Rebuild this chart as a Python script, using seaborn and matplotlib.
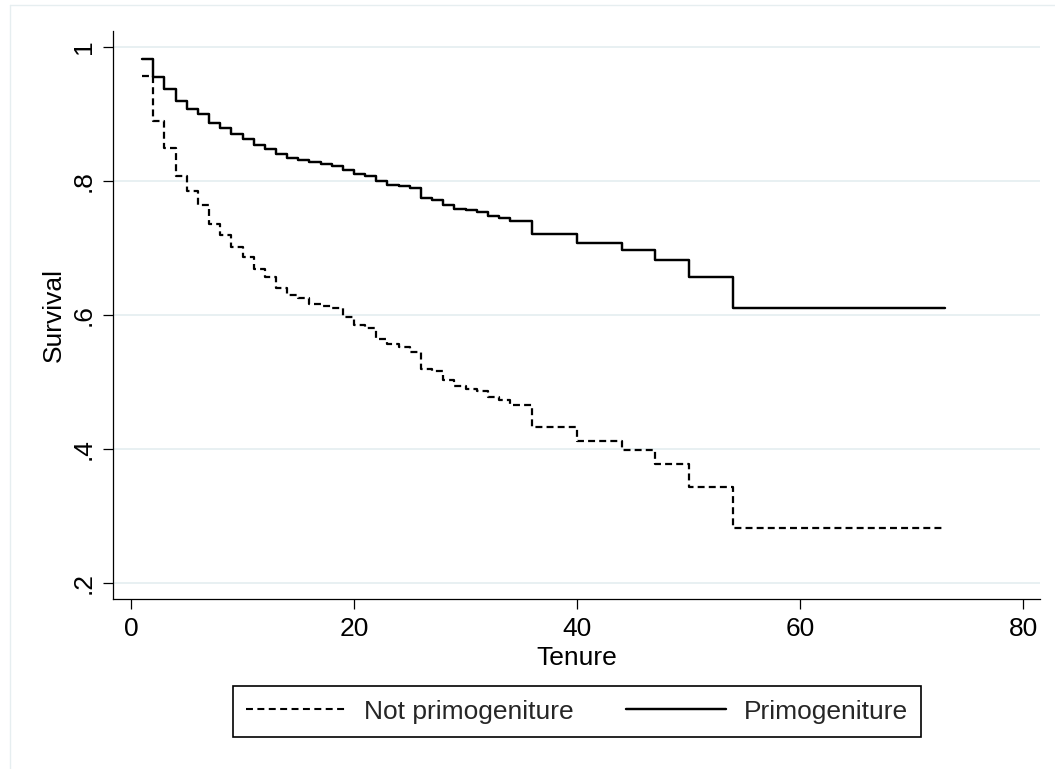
import matplotlib
matplotlib.use("Agg")
import matplotlib.pyplot as plt
from matplotlib.lines import Line2D
import seaborn as sns
import pandas as pd

# ---- data ----
prim_time = [1, 2, 3, 4, 5, 6, 7, 8, 9, 10, 11, 12, 13, 14, 15, 16, 17, 18, 19, 20,
             21, 22, 23, 24, 25, 26, 27, 28, 29, 30, 31, 32, 33, 34, 36, 40, 44, 47,
             50, 54, 73]
prim_surv = [0.982, 0.955, 0.937, 0.919, 0.908, 0.900, 0.886, 0.879, 0.870, 0.863,
             0.854, 0.848, 0.840, 0.835, 0.832, 0.828, 0.825, 0.822, 0.816, 0.810,
             0.807, 0.800, 0.794, 0.793, 0.789, 0.774, 0.772, 0.764, 0.758, 0.756,
             0.754, 0.748, 0.745, 0.741, 0.721, 0.707, 0.697, 0.682, 0.657, 0.610,
             0.610]

notprim_time = [1, 2, 3, 4, 5, 6, 7, 8, 9, 10, 11, 12, 13, 14, 15, 16, 17, 18, 19, 20,
                21, 22, 23, 24, 25, 26, 27, 28, 29, 30, 31, 32, 33, 34, 36, 40, 44, 47,
                50, 54, 73]
notprim_surv = [0.956, 0.890, 0.850, 0.808, 0.785, 0.764, 0.736, 0.719, 0.702, 0.686,
                0.669, 0.656, 0.641, 0.630, 0.626, 0.616, 0.613, 0.610, 0.597, 0.585,
                0.580, 0.564, 0.556, 0.553, 0.545, 0.520, 0.517, 0.503, 0.494, 0.490,
                0.486, 0.477, 0.473, 0.466, 0.433, 0.412, 0.399, 0.378, 0.343, 0.282,
                0.282]

x_ticks = [0, 20, 40, 60, 80]
y_ticks = [0.2, 0.4, 0.6, 0.8, 1.0]
y_tick_labels = [".2", ".4", ".6", ".8", "1"]
series_labels = ["Not primogeniture", "Primogeniture"]
x_label = "Tenure"
y_label = "Survival"

# ---- style ----
sns.set_theme(style="white")
plt.rcParams["font.family"] = ["Liberation Sans", "DejaVu Sans"]
plt.rcParams["lines.scale_dashes"] = False
FS = 19

fig = plt.figure(figsize=(10.55, 7.69), dpi=100)
W, H = 1055, 769
ax = fig.add_axes([113 / W, 1 - 599.3 / H, 927 / W, 568.3 / H])

df_np = pd.DataFrame({"t": notprim_time, "s": notprim_surv})
df_p = pd.DataFrame({"t": prim_time, "s": prim_surv})

sns.lineplot(data=df_np, x="t", y="s", ax=ax, drawstyle="steps-post",
             estimator=None, color="black", lw=1.6)
line_np = ax.lines[-1]
line_np.set_dashes((5, 3))
sns.lineplot(data=df_p, x="t", y="s", ax=ax, drawstyle="steps-post",
             estimator=None, color="black", lw=1.75)
line_p = ax.lines[-1]

ax.set_xlim(-1.614, 81.52)
ax.set_ylim(0.1757, 1.0239)
ax.set_xticks(x_ticks)
ax.set_xticklabels([str(v) for v in x_ticks], fontsize=FS)
ax.set_yticks(y_ticks)
ax.set_yticklabels(y_tick_labels, fontsize=FS, rotation=90, va="center")

ax.yaxis.grid(True, color="#e8f0f2", lw=1.4)
ax.xaxis.grid(False)
ax.set_axisbelow(True)

for side in ["top", "right"]:
    ax.spines[side].set_visible(False)
for side in ["left", "bottom"]:
    ax.spines[side].set_color("black")
    ax.spines[side].set_linewidth(0.9)

ax.tick_params(axis="both", direction="out", length=7.5, width=0.9,
               color="black", labelcolor="black", pad=5)
ax.tick_params(axis="both", which="both", bottom=True, left=True)

ax.set_xlabel(x_label, fontsize=FS, color="black", labelpad=4)
ax.set_ylabel(y_label, fontsize=FS, color="black", labelpad=4)

leg_handles = [Line2D([0], [0], color="black", lw=1.5, dashes=(5.0, 3.2)),
               Line2D([0], [0], color="black", lw=1.75)]
leg = ax.legend(handles=leg_handles, labels=series_labels, ncol=2,
                loc="center", bbox_to_anchor=(577 / W, 1 - 711.5 / H),
                bbox_transform=fig.transFigure, fontsize=FS,
                frameon=True, fancybox=False, shadow=False,
                handlelength=3.8, handletextpad=0.65, columnspacing=2.0,
                borderpad=0.5, borderaxespad=0)
leg.get_frame().set_edgecolor("black")
leg.get_frame().set_linewidth(1.2)
leg.get_frame().set_facecolor("white")
leg.get_frame().set_alpha(1)

# faint graph-region outline (top and left visible in the reference)
fig.add_artist(Line2D([10 / W, 1.0], [1 - 5 / H, 1 - 5 / H], transform=fig.transFigure,
                      color="#e6eef0", lw=1))
fig.add_artist(Line2D([10 / W, 10 / W], [0.0, 1 - 5 / H], transform=fig.transFigure,
                      color="#e6eef0", lw=1))

fig.savefig("out.png", dpi=100, facecolor="white")
